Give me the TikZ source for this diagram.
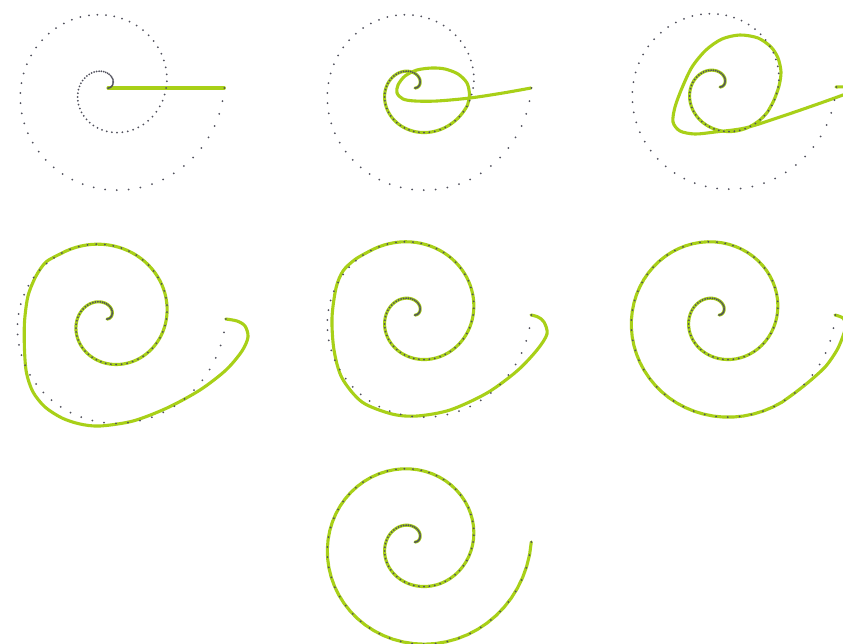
\documentclass[tikz,border=0pt]{standalone}
\definecolor{lime}{RGB}{168,208,24}
\definecolor{dotc}{RGB}{80,80,92}
\tikzset{
  greenline/.style={draw=lime, line width=3.1pt, line cap=round, line join=round},
  spiraldot/.style={fill=dotc},
}
% #1,#2 centre, #3 growth (pt per degree)
\newcommand\spiraldotsat[3]{%
  \foreach \k in {0,...,110}{%
    \pgfmathsetmacro\myang{6.545454*\k}%
    \fill[spiraldot] ({#1+#3*\myang*cos(\myang)},{#2-#3*\myang*sin(\myang)}) circle (1pt);
  }%
}
% #1,#2 centre, #3 end angle, #4 growth
\newcommand\spiralpart[4]{plot[domain=0:#3,samples=120,variable=\t] ({#1+#4*\t*cos(\t)},{#2-#4*\t*sin(\t)})}
\begin{document}
\begin{tikzpicture}[x=1pt,y=-1pt]
\useasboundingbox (0,0) rectangle (843,643);
\fill[white] (0,0) rectangle (843,643);
\clip (0,0) rectangle (843,643);

% panel 1
\draw[greenline] (108,88) -- (224.3,88);
% panel 2
\draw[greenline] \spiralpart{415}{88}{342}{0.1615} -- plot[smooth] coordinates {(467.5,105.1) (469.5,95) (467,83) (458,74) (445,69) (432,68) (417,70) (405,76) (398,85) (397,93) (403,99) (415,101) (437,101) (470,98) (503,93) (531,88)};
% panel 3
\draw[greenline] \spiralpart{720}{87}{333}{0.1615} -- plot[smooth] coordinates {(767.9,111.4) (774,100) (779,86) (781,72) (778,58) (771,47) (758,38) (740,35) (722,39) (706,50) (692,67) (682,88) (675,107) (673,122) (680,131) (695,134) (715,132) (745,128) (780,117) (815,105) (843,95) (856,90) (850,87) (836,87)};
% panel 4
\draw[greenline] \spiralpart{107}{319}{486}{0.165} -- plot[smooth] coordinates {(59.9,254.1) (46,262) (36,276) (28,296) (24.5,322) (24.5,350) (26.5,373) (33,392) (45,407) (62,418) (80,424) (100,426) (133,421) (167,408) (200,390) (226,370) (242,351) (248,337) (245,326) (237,321) (225.8,319)};
% panel 5
\draw[greenline] \spiralpart{415}{315}{486}{0.1615} -- plot[smooth] coordinates {(368.9,251.5) (355,259.5) (343,271) (336,288) (332,318) (334,350) (342,378) (362,402) (392,414) (417,416) (450,410) (487,393) (517,371) (537,350) (547,334) (544,322) (538,317) (531,315)};
% panel 6
\draw[greenline] \spiralpart{719}{315}{666}{0.1615} -- plot[smooth] coordinates {(782.2,402) (796,392) (811,380) (826,366) (837,350) (843,336) (846,325) (843,318) (835,315)};
% panel 7
\draw[greenline] \spiralpart{415}{542}{720}{0.1615};

% dotted spirals
\spiraldotsat{108}{88}{0.1615}
\spiraldotsat{415}{88}{0.1615}
\spiraldotsat{720}{87}{0.1615}
\spiraldotsat{107}{319}{0.165}
\spiraldotsat{415}{315}{0.1615}
\spiraldotsat{719}{315}{0.1615}
\spiraldotsat{415}{542}{0.1615}
\end{tikzpicture}
\end{document}
